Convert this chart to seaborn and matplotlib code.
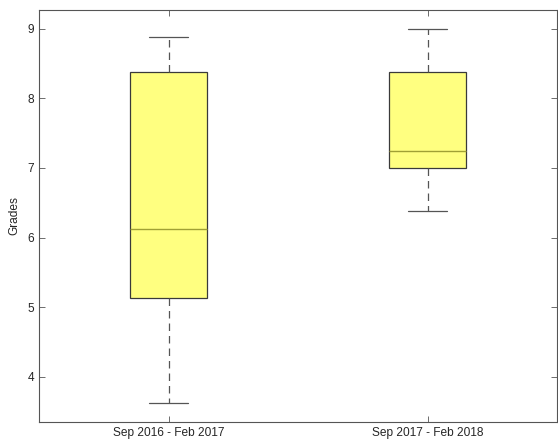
import pandas as pd
import matplotlib
matplotlib.use("Agg")
import matplotlib.pyplot as plt
import seaborn as sns

# values (min, q1, median, q3, max)
periods = ["Sep 2016 - Feb 2017", "Sep 2017 - Feb 2018"]
grades_1617 = [3.625, 5.125, 6.125, 8.375, 8.875]
grades_1718 = [6.375, 7.0, 7.25, 8.375, 9.0]

df = pd.DataFrame({
    "period": [periods[0]] * len(grades_1617) + [periods[1]] * len(grades_1718),
    "grade": grades_1617 + grades_1718,
})

sns.set_style("ticks")
plt.rcParams["font.family"] = ["Liberation Sans", "DejaVu Sans"]

fig = plt.figure(figsize=(5.58, 4.42), dpi=100)
ax = fig.add_axes([39 / 558, 20 / 442, 518 / 558, 412 / 442])

sns.boxplot(data=df, x="period", y="grade", ax=ax, width=0.3,
            color="#ffff80", saturation=1, linewidth=0.9, whis=10,
            boxprops=dict(facecolor="#ffff80", edgecolor="#3a3a3a"),
            medianprops=dict(color="#a0a035", linewidth=1.0),
            whiskerprops=dict(color="#555555", linestyle=(0, (6, 4)), linewidth=0.9),
            capprops=dict(color="#555555", linewidth=0.9),
            showfliers=False)

ax.set_xlim(-0.5, 1.5)
ax.set_ylim(3.35, 9.27)
ax.set_yticks([4, 5, 6, 7, 8, 9])
ax.set_xlabel("")
ax.set_ylabel("Grades", fontsize=8.6, color="#262626", labelpad=5)
ax.tick_params(axis="both", direction="in", length=4, width=0.6, color="#555555",
               labelsize=8.6, labelcolor="#262626", top=True, right=True)
for s in ax.spines.values():
    s.set_color("#555555")
    s.set_linewidth(0.8)

fig.savefig("out.png", dpi=100)
